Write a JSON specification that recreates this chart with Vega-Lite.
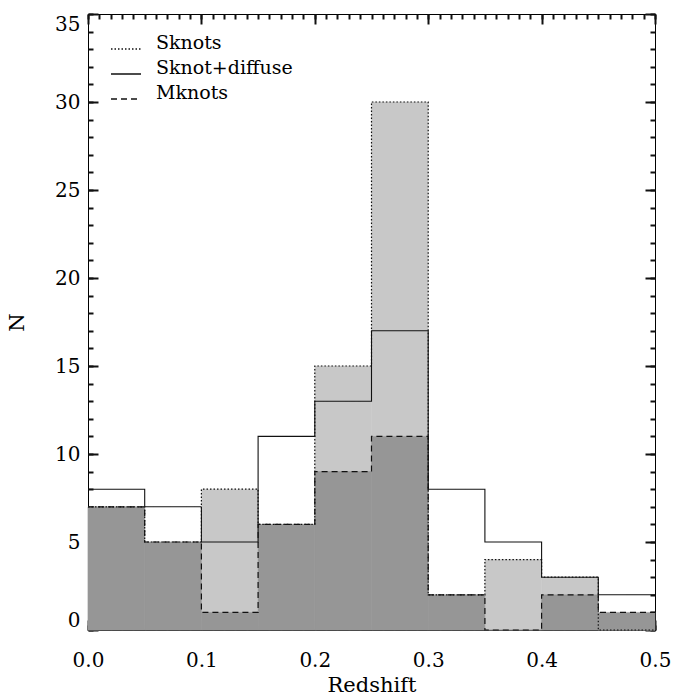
{
  "$schema": "https://vega.github.io/schema/vega-lite/v6.json",
  "width": 567,
  "height": 616,
  "autosize": "none",
  "padding": {"left": 88, "top": 14, "right": 19, "bottom": 67},
  "background": "white",
  "config": {
    "view": {"stroke": "black", "strokeWidth": 1},
    "font": "DejaVu Serif",
    "axis": {
      "grid": false,
      "domain": false,
      "labelColor": "black",
      "labelFont": "DejaVu Serif",
      "labelFontSize": 20,
      "titleFont": "DejaVu Serif",
      "titleFontSize": 21,
      "titleFontWeight": "normal",
      "titleColor": "black"
    }
  },
  "data": {
    "values": [
      {"series": "Sknots", "lo": 0.0, "hi": 0.05, "n": 7},
      {"series": "Sknots", "lo": 0.05, "hi": 0.1, "n": 5},
      {"series": "Sknots", "lo": 0.1, "hi": 0.15, "n": 8},
      {"series": "Sknots", "lo": 0.15, "hi": 0.2, "n": 6},
      {"series": "Sknots", "lo": 0.2, "hi": 0.25, "n": 15},
      {"series": "Sknots", "lo": 0.25, "hi": 0.3, "n": 30},
      {"series": "Sknots", "lo": 0.3, "hi": 0.35, "n": 2},
      {"series": "Sknots", "lo": 0.35, "hi": 0.4, "n": 4},
      {"series": "Sknots", "lo": 0.4, "hi": 0.45, "n": 3},
      {"series": "Sknots", "lo": 0.45, "hi": 0.5, "n": 0},
      {"series": "Sknot+diffuse", "lo": 0.0, "hi": 0.05, "n": 8},
      {"series": "Sknot+diffuse", "lo": 0.05, "hi": 0.1, "n": 7},
      {"series": "Sknot+diffuse", "lo": 0.1, "hi": 0.15, "n": 5},
      {"series": "Sknot+diffuse", "lo": 0.15, "hi": 0.2, "n": 11},
      {"series": "Sknot+diffuse", "lo": 0.2, "hi": 0.25, "n": 13},
      {"series": "Sknot+diffuse", "lo": 0.25, "hi": 0.3, "n": 17},
      {"series": "Sknot+diffuse", "lo": 0.3, "hi": 0.35, "n": 8},
      {"series": "Sknot+diffuse", "lo": 0.35, "hi": 0.4, "n": 5},
      {"series": "Sknot+diffuse", "lo": 0.4, "hi": 0.45, "n": 3},
      {"series": "Sknot+diffuse", "lo": 0.45, "hi": 0.5, "n": 2},
      {"series": "Mknots", "lo": 0.0, "hi": 0.05, "n": 7},
      {"series": "Mknots", "lo": 0.05, "hi": 0.1, "n": 5},
      {"series": "Mknots", "lo": 0.1, "hi": 0.15, "n": 1},
      {"series": "Mknots", "lo": 0.15, "hi": 0.2, "n": 6},
      {"series": "Mknots", "lo": 0.2, "hi": 0.25, "n": 9},
      {"series": "Mknots", "lo": 0.25, "hi": 0.3, "n": 11},
      {"series": "Mknots", "lo": 0.3, "hi": 0.35, "n": 2},
      {"series": "Mknots", "lo": 0.35, "hi": 0.4, "n": 0},
      {"series": "Mknots", "lo": 0.4, "hi": 0.45, "n": 2},
      {"series": "Mknots", "lo": 0.45, "hi": 0.5, "n": 1}
    ]
  },
  "layer": [
    {
      "transform": [{"filter": "datum.series === 'Sknots'"}],
      "mark": {"type": "rect", "fill": "#c8c8c8", "stroke": "#c8c8c8", "strokeWidth": 0.5},
      "encoding": {
        "x": {
          "field": "lo", "type": "quantitative",
          "scale": {"domain": [0, 0.5], "nice": false, "zero": false},
          "axis": {"orient": "bottom", "values": [0, 0.1, 0.2, 0.3, 0.4, 0.5], "format": ".1f", "domain": false, "tickColor": "#111111", "tickWidth": 2, "tickSize": -10, "labelPadding": 30, "labelFlush": false, "title": "Redshift", "titlePadding": 4}
        },
        "x2": {"field": "hi"},
        "y": {
          "field": "n", "type": "quantitative",
          "scale": {"domain": [0, 35], "nice": false, "zero": true},
          "axis": {"orient": "left", "values": [0, 5, 10, 15, 20, 25, 30, 35], "domain": false, "tickColor": "#111111", "tickWidth": 2, "tickSize": -10, "labelPadding": 18, "labelFlush": true, "title": "N", "titlePadding": 27}
        },
        "y2": {"datum": 0}
      }
    },
    {
      "transform": [{"filter": "datum.series === 'Mknots'"}],
      "mark": {"type": "rect", "fill": "#969696", "stroke": "#969696", "strokeWidth": 0.5},
      "encoding": {
        "x": {
          "field": "lo", "type": "quantitative",
          "axis": {"orient": "bottom", "values": [0,0.01,0.02,0.03,0.04,0.05,0.06,0.07,0.08,0.09,0.1,0.11,0.12,0.13,0.14,0.15,0.16,0.17,0.18,0.19,0.2,0.21,0.22,0.23,0.24,0.25,0.26,0.27,0.28,0.29,0.3,0.31,0.32,0.33,0.34,0.35,0.36,0.37,0.38,0.39,0.4,0.41,0.42,0.43,0.44,0.45,0.46,0.47,0.48,0.49,0.5], "domain": false, "tickColor": "#111111", "tickWidth": 2, "tickSize": -5, "labels": false, "title": null}
        },
        "x2": {"field": "hi"},
        "y": {
          "field": "n", "type": "quantitative",
          "axis": {"orient": "left", "values": [0,1,2,3,4,5,6,7,8,9,10,11,12,13,14,15,16,17,18,19,20,21,22,23,24,25,26,27,28,29,30,31,32,33,34,35], "domain": false, "tickColor": "#111111", "tickWidth": 2, "tickSize": -5, "labels": false, "title": null}
        },
        "y2": {"datum": 0}
      }
    },
    {
      "transform": [
        {"filter": "datum.series !== 'Sknot+diffuse'"},
        {"fold": ["lo", "hi"], "as": ["edge", "xval"]}
      ],
      "mark": {"type": "line", "color": "#111111", "strokeWidth": 1.2},
      "encoding": {
        "x": {
          "field": "xval", "type": "quantitative",
          "axis": {"orient": "top", "values": [0, 0.1, 0.2, 0.3, 0.4, 0.5], "domain": false, "tickColor": "#111111", "tickWidth": 2, "tickSize": -10, "labels": false, "title": null}
        },
        "y": {
          "field": "n", "type": "quantitative",
          "axis": {"orient": "right", "offset": -10, "values": [0, 5, 10, 15, 20, 25, 30, 35], "domain": false, "tickColor": "#111111", "tickWidth": 2, "tickSize": 10, "labels": false, "title": null}
        },
        "detail": {"field": "series"},
        "strokeDash": {
          "field": "series", "type": "nominal",
          "scale": {"domain": ["Sknots", "Sknot+diffuse", "Mknots"], "range": [[1.5, 2], [1, 0], [6, 4]]},
          "legend": {
            "orient": "none", "legendX": 22, "legendY": 19, "title": null,
            "symbolType": "stroke", "symbolSize": 900, "symbolStrokeWidth": 1.3, "symbolStrokeColor": "black",
            "labelFont": "DejaVu Serif", "labelFontSize": 19, "labelColor": "black", "labelOffset": 14,
            "labelBaseline": "alphabetic", "labelLimit": 300, "rowPadding": 5, "padding": 0
          }
        },
        "order": [{"field": "xval", "type": "quantitative"}, {"field": "lo", "type": "quantitative"}]
      }
    },
    {
      "transform": [
        {"filter": "datum.series === 'Sknot+diffuse'"},
        {"fold": ["lo", "hi"], "as": ["edge", "xval"]}
      ],
      "mark": {"type": "line", "color": "#111111", "strokeWidth": 1.1},
      "encoding": {
        "x": {
          "field": "xval", "type": "quantitative",
          "axis": {"orient": "top", "values": [0,0.01,0.02,0.03,0.04,0.05,0.06,0.07,0.08,0.09,0.1,0.11,0.12,0.13,0.14,0.15,0.16,0.17,0.18,0.19,0.2,0.21,0.22,0.23,0.24,0.25,0.26,0.27,0.28,0.29,0.3,0.31,0.32,0.33,0.34,0.35,0.36,0.37,0.38,0.39,0.4,0.41,0.42,0.43,0.44,0.45,0.46,0.47,0.48,0.49,0.5], "domain": false, "tickColor": "#111111", "tickWidth": 2, "tickSize": -5, "labels": false, "title": null}
        },
        "y": {
          "field": "n", "type": "quantitative",
          "axis": {"orient": "right", "offset": -5, "values": [0,1,2,3,4,5,6,7,8,9,10,11,12,13,14,15,16,17,18,19,20,21,22,23,24,25,26,27,28,29,30,31,32,33,34,35], "domain": false, "tickColor": "#111111", "tickWidth": 2, "tickSize": 5, "labels": false, "title": null}
        },
        "strokeDash": {"field": "series", "type": "nominal"},
        "order": [{"field": "xval", "type": "quantitative"}, {"field": "lo", "type": "quantitative"}]
      }
    }
  ],
  "resolve": {"axis": {"x": "independent", "y": "independent"}}
}
